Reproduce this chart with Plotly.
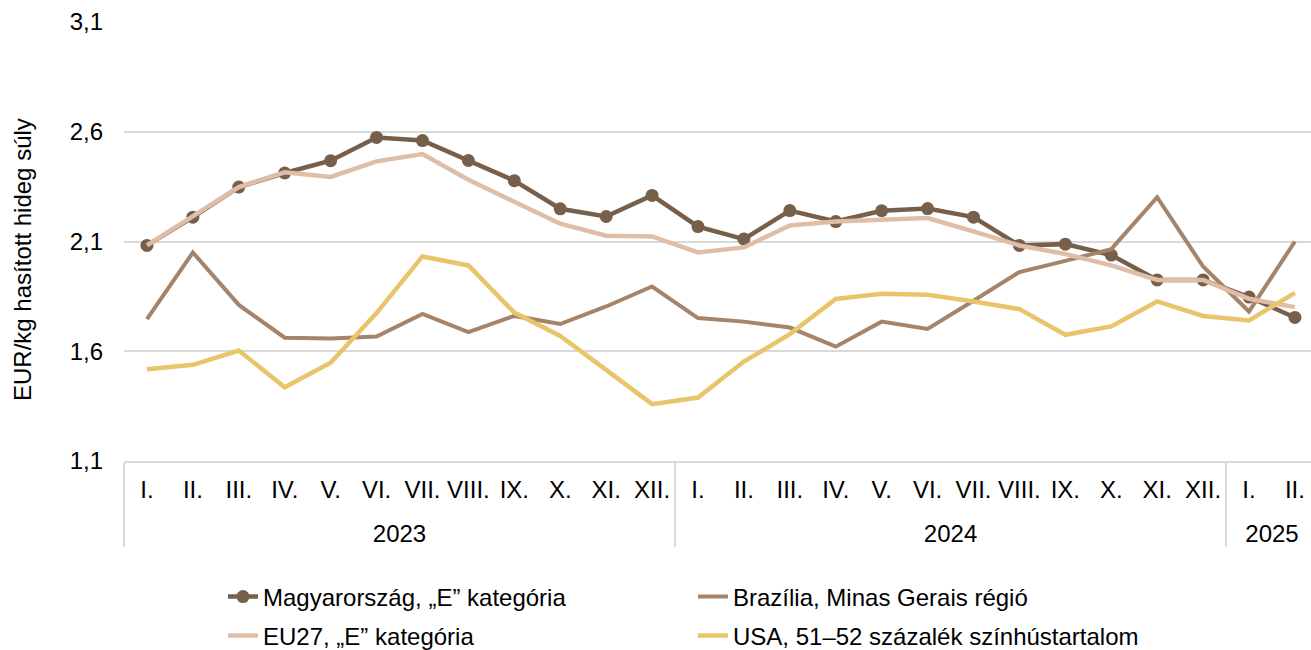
import plotly.graph_objects as go

years = ["2023"] * 12 + ["2024"] * 12 + ["2025"] * 2
months = ["I.", "II.", "III.", "IV.", "V.", "VI.", "VII.", "VIII.", "IX.", "X.", "XI.", "XII."] * 2 + ["I.", "II."]

hu = [2.082, 2.211, 2.348, 2.412, 2.468, 2.574, 2.560, 2.469, 2.377, 2.249, 2.214, 2.310,
      2.168, 2.111, 2.241, 2.191, 2.240, 2.250, 2.211, 2.082, 2.088, 2.038, 1.925, 1.925,
      1.847, 1.754]
br = [1.746, 2.050, 1.811, 1.662, 1.658, 1.667, 1.770, 1.687, 1.761, 1.724, 1.804, 1.895,
      1.751, 1.735, 1.708, 1.621, 1.735, 1.702, 1.830, 1.961, 2.012, 2.065, 2.302, 1.986,
      1.781, 2.100]
eu = [2.082, 2.217, 2.348, 2.415, 2.394, 2.465, 2.498, 2.381, 2.282, 2.181, 2.126, 2.123,
      2.050, 2.073, 2.173, 2.191, 2.199, 2.207, 2.146, 2.082, 2.043, 1.991, 1.925, 1.925,
      1.839, 1.801]
us = [1.518, 1.538, 1.603, 1.436, 1.548, 1.774, 2.032, 1.991, 1.776, 1.670, 1.515, 1.359,
      1.389, 1.553, 1.678, 1.838, 1.862, 1.857, 1.827, 1.792, 1.675, 1.713, 1.827, 1.761,
      1.740, 1.866]

names = ["Magyarország, „E” kategória", "Brazília, Minas Gerais régió",
         "EU27, „E” kategória", "USA, 51–52 százalék színhústartalom"]
colors = ["#76604C", "#A6846A", "#DFBEA8", "#E9C46A"]

FONT = "Liberation Sans, Arial, sans-serif"

# invisible tall thin spaces enlarge the month-label row so the year row sits lower
pad = "<span style='font-size:43px'>\u2009</span>"
month_labels = [pad + m + pad for m in months]
x = [years, month_labels]

fig = go.Figure()
fig.add_trace(go.Scatter(x=x, y=hu, name=names[0], mode="lines+markers", legend="legend",
                         line=dict(color=colors[0], width=4.5),
                         marker=dict(size=13, color=colors[0])))
fig.add_trace(go.Scatter(x=x, y=br, name=names[1], mode="lines", legend="legend",
                         line=dict(color=colors[1], width=4)))
fig.add_trace(go.Scatter(x=x, y=eu, name=names[2], mode="lines", legend="legend2",
                         line=dict(color=colors[2], width=4.5)))
fig.add_trace(go.Scatter(x=x, y=us, name=names[3], mode="lines", legend="legend2",
                         line=dict(color=colors[3], width=4.5)))

W, H = 1311, 650
ml, mr, mt, mb = 124, 0, 22, 189
pw = W - ml - mr
ph = H - mt - mb

def leg(row_center):
    return dict(orientation="h", x=(223 - ml) / pw, xanchor="left",
                y=(H - mb - row_center) / ph, yanchor="middle",
                entrywidth=425, font=dict(size=24, family=FONT),
                bgcolor="rgba(0,0,0,0)")

fig.update_layout(
    width=W, height=H,
    margin=dict(l=ml, r=mr, t=mt, b=mb, autoexpand=False),
    paper_bgcolor="white", plot_bgcolor="white",
    separators=", ",
    font=dict(family=FONT, size=24, color="#000000"),
    showlegend=True,
    legend=leg(597),
    legend2=leg(636),
    xaxis=dict(type="multicategory", range=[-0.5, 25.35], automargin=False,
               showline=True, linecolor="#D9D9D9", linewidth=1.5,
               showgrid=False, ticks="", ticklabelstandoff=6,
               showdividers=True, tickangle=0,
               dividercolor="#D9D9D9", dividerwidth=1.5,
               tickfont=dict(size=24, family=FONT)),
    yaxis=dict(range=[1.1, 3.1], dtick=0.5, tick0=1.1, tickformat=".1f",
               automargin=False,
               showgrid=True, gridcolor="#D9D9D9", gridwidth=1.5,
               zeroline=False, showline=False, ticks="",
               ticklabelstandoff=20,
               tickfont=dict(size=24, family=FONT)),
)

fig.add_annotation(text="EUR/kg hasított hideg súly", textangle=-90,
                   xref="paper", yref="paper",
                   x=(22 - ml) / pw, y=(H - mb - 260) / ph,
                   xanchor="center", yanchor="middle", showarrow=False,
                   font=dict(size=24, family=FONT))

fig.write_html("out.html", config={"displayModeBar": False},
               post_script="document.body.style.margin='0px';")
